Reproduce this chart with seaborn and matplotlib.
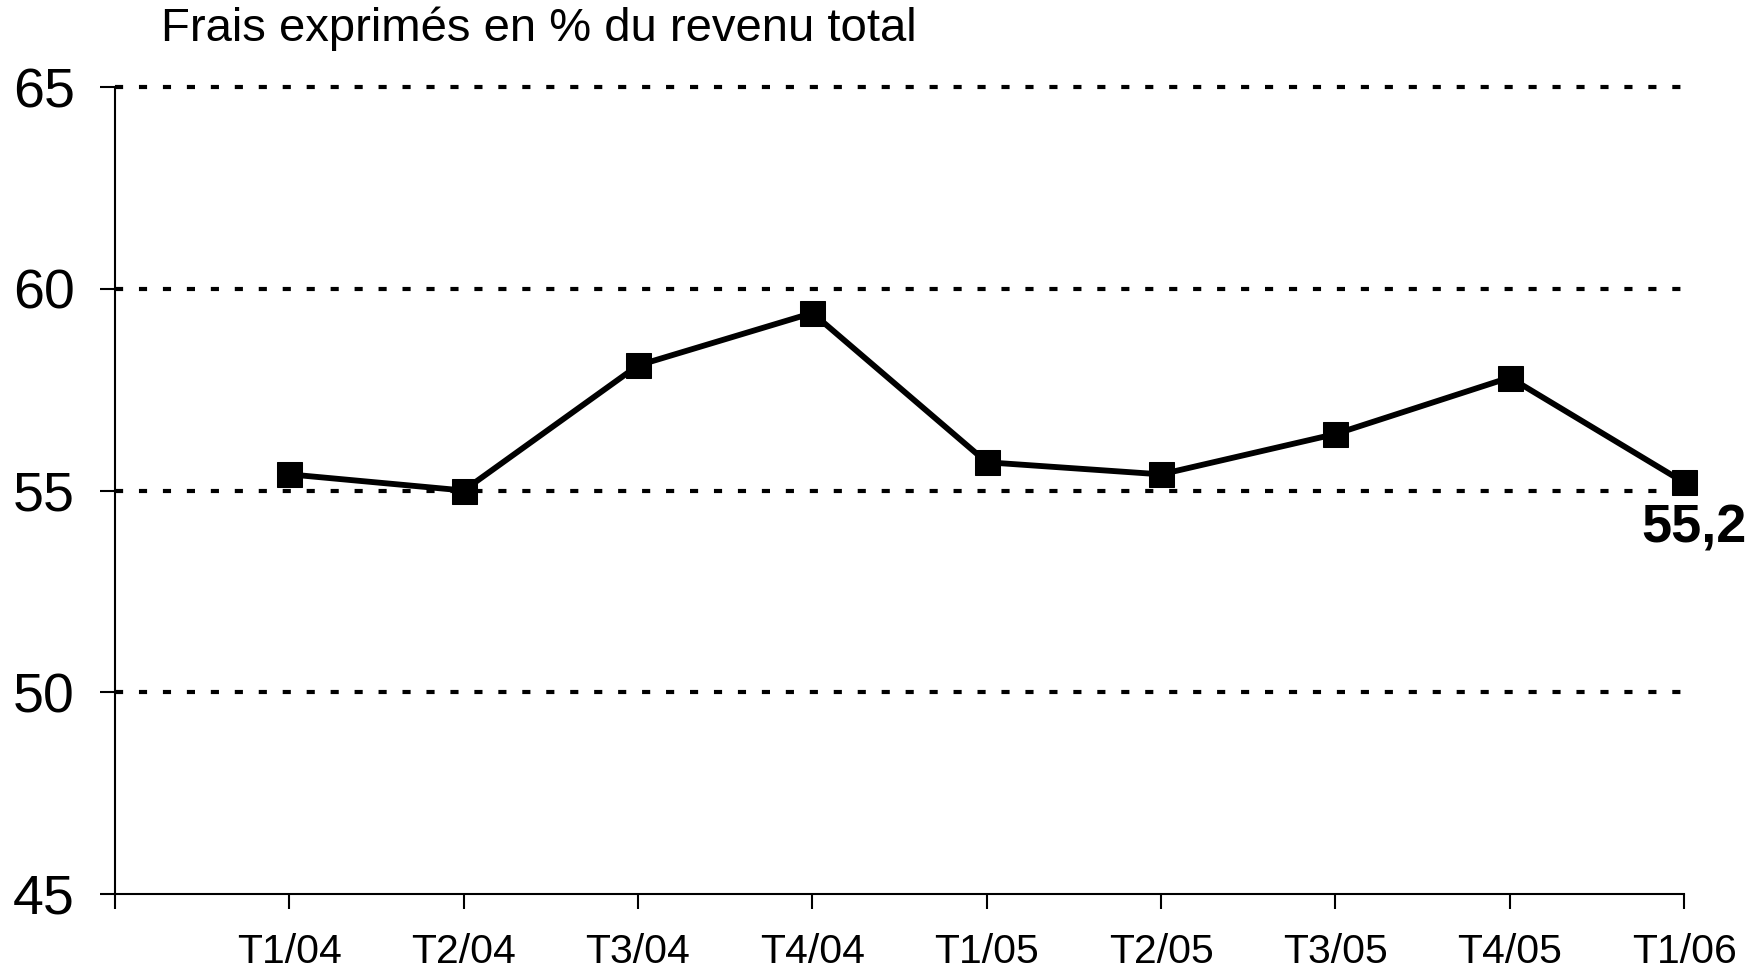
import numpy as np
import matplotlib
matplotlib.use('Agg')
import matplotlib.pyplot as plt
import seaborn as sns
import pandas as pd

sns.set_theme(style='white')
plt.rcParams['font.family'] = ['Liberation Sans', 'DejaVu Sans']
plt.rcParams['text.color'] = 'black'
plt.rcParams['xtick.color'] = 'black'
plt.rcParams['ytick.color'] = 'black'

### Data
quarters = ['T1/04', 'T2/04', 'T3/04', 'T4/04', 'T1/05', 'T2/05', 'T3/05', 'T4/05', 'T1/06']
frais = [55.4, 55.0, 58.1, 59.4, 55.7, 55.4, 56.4, 57.8, 55.2]
yticks = [45, 50, 55, 60, 65]
title = 'Frais exprimés en % du revenu total'
last_label = '55,2'

df = pd.DataFrame({'trimestre': quarters, 'frais': frais})

### Plot
fig = plt.figure(figsize=(17.64, 9.71), dpi=100)
ax = fig.add_axes([0.0652, 0.0793, 0.8895, 0.8311])

# dotted grid lines (Excel style), not clipped so the top one is full width
for y in yticks[1:]:
    ax.axhline(y, color='black', lw=3.0, linestyle=(0, (1.95, 3.8)), zorder=1,
               clip_on=False)

sns.lineplot(data=df, x='trimestre', y='frais', ax=ax, color='black', lw=4.2,
             marker='s', markersize=18, markeredgecolor='black', zorder=3,
             clip_on=False)

ax.set_xlim(-1, 8)
ax.set_ylim(45, 65)
ax.set_yticks(yticks)
ax.set_xticks(range(-1, len(quarters)))
ax.set_xticklabels([''] + quarters)
ax.set_xlabel('')
ax.set_ylabel('')

for s in ['top', 'right']:
    ax.spines[s].set_visible(False)
for s in ['left', 'bottom']:
    ax.spines[s].set_color('black')
    ax.spines[s].set_linewidth(1.5)

ax.tick_params(axis='y', direction='out', length=11, width=1.5,
               labelsize=40, pad=18, left=True)
ax.tick_params(axis='x', direction='out', length=11, width=1.5,
               labelsize=29.5, pad=17, bottom=True)

# label of the last value
ax.annotate(last_label, xy=(len(quarters) - 1, frais[-1]), xytext=(7, -15),
            textcoords='offset points', ha='center', va='top',
            fontsize=39, fontweight='bold')

fig.text(0.0913, 0.958, title, fontsize=34, ha='left', va='baseline')

fig.savefig('out.png', dpi=100)
